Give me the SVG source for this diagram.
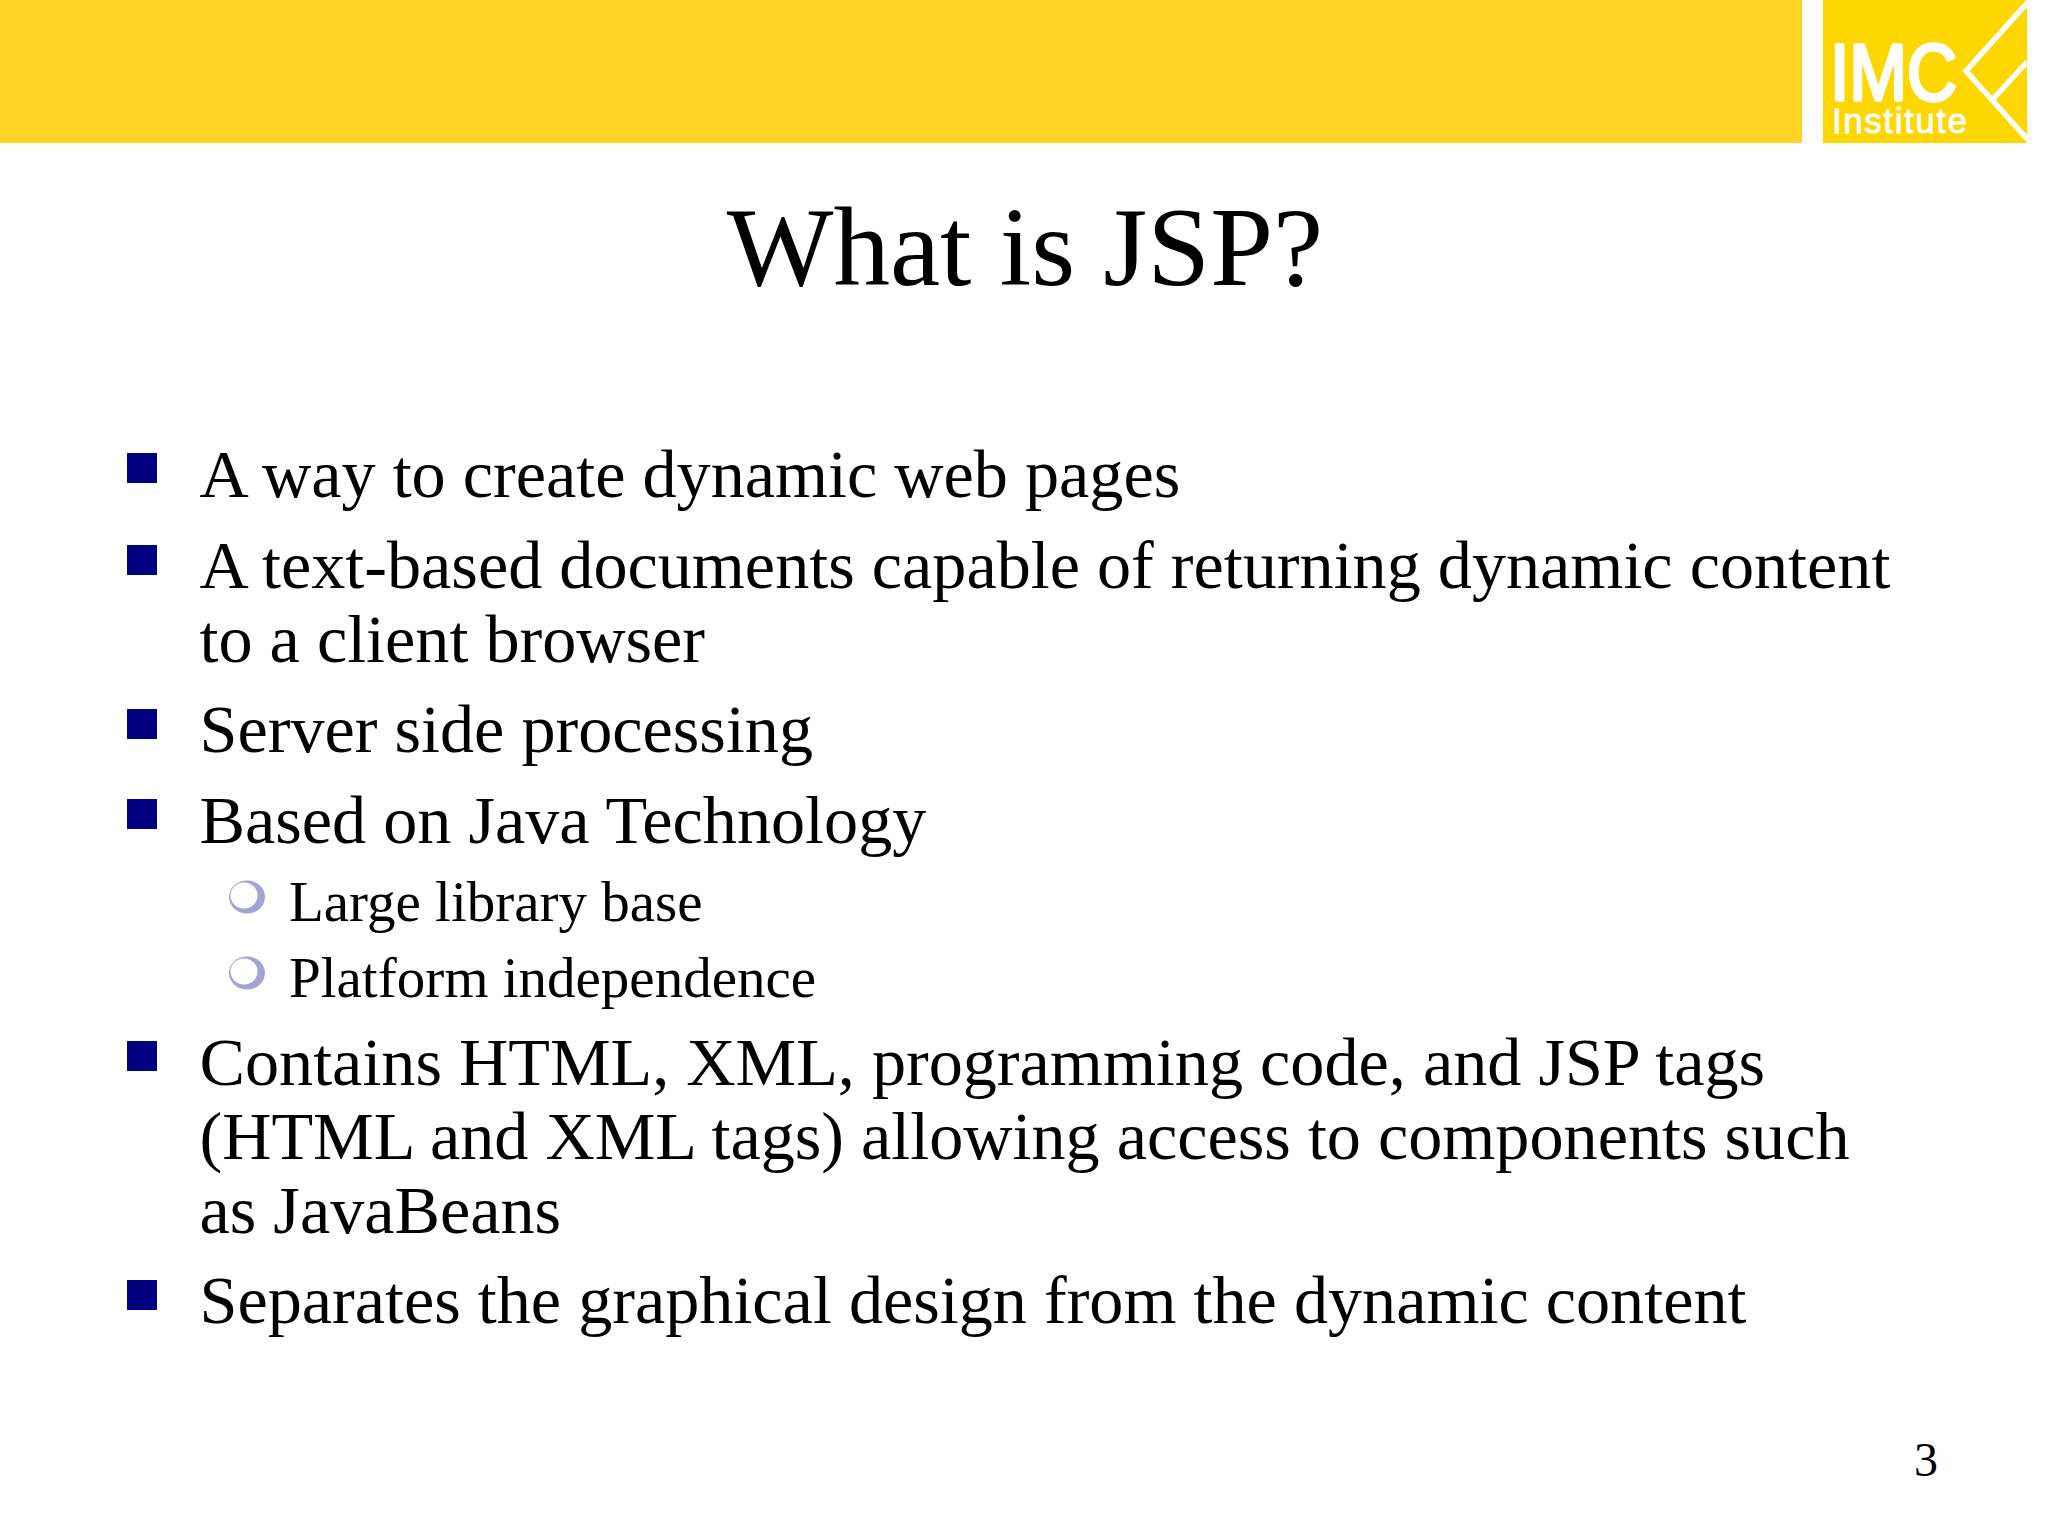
<svg xmlns="http://www.w3.org/2000/svg" width="2048" height="1536" viewBox="0 0 2048 1536">
<style>
text{font-family:"Liberation Serif","Times New Roman",serif;fill:#000}
.l1{font-size:68.200px}
.l2{font-size:57px}
.sq{fill:#000080}
.logo{font-family:"Liberation Sans",Arial,sans-serif}
</style>
<defs>
<g id="sub"><ellipse cx="0" cy="0" rx="18" ry="16.500" fill="#a5a3d4"/><ellipse cx="-3" cy="-1.500" rx="13.500" ry="13" fill="#fff"/></g>
</defs>
<rect width="2048" height="1536" fill="#fff"/>
<rect id="band" x="0" y="0" width="1802" height="143" fill="#ffd324"/>
<g id="logo">
<rect x="1823" y="0" width="204" height="143" fill="#ffd700"/>
<text class="logo" x="1830" y="100" font-size="80" stroke="#fff" stroke-width="3.500" stroke-linejoin="round" textLength="127" lengthAdjust="spacingAndGlyphs" style="fill:#fff">IMC</text>
<text class="logo" x="1832" y="133" font-size="35" stroke="#fff" stroke-width="0.800" textLength="135" lengthAdjust="spacing" style="fill:#fff">Institute</text>
<path d="M2029 1L1966 71L2029 141M1993 99L2027 62" fill="none" stroke="#fff" stroke-width="5.500"/>
</g>
<text x="1025" y="285" font-size="113" text-anchor="middle">What is JSP?</text>
<g id="bullets">
<rect class="sq" x="127" y="453" width="30" height="30"/>
<rect class="sq" x="127" y="545" width="30" height="30"/>
<rect class="sq" x="127" y="709" width="30" height="30"/>
<rect class="sq" x="127" y="799" width="30" height="30"/>
<rect class="sq" x="127" y="1041" width="30" height="30"/>
<rect class="sq" x="127" y="1280" width="30" height="30"/>
<use href="#sub" x="247" y="897"/>
<use href="#sub" x="247" y="973"/>
</g>
<g id="body">
<text class="l1" x="199.500" y="497">A way to create dynamic web pages</text>
<text class="l1" x="199.500" y="588">A text-based documents capable of returning dynamic content</text>
<text class="l1" x="199.500" y="662">to a client browser</text>
<text class="l1" x="199.500" y="752">Server side processing</text>
<text class="l1" x="199.500" y="843">Based on Java Technology</text>
<text class="l2" x="289" y="921">Large library base</text>
<text class="l2" x="289" y="997">Platform independence</text>
<text class="l1" x="199.500" y="1085">Contains HTML, XML, programming code, and JSP tags</text>
<text class="l1" x="199.500" y="1159">(HTML and XML tags) allowing access to components such</text>
<text class="l1" x="199.500" y="1233">as JavaBeans</text>
<text class="l1" x="199.500" y="1323">Separates the graphical design from the dynamic content</text>
</g>
<text x="1926" y="1476" font-size="48" text-anchor="middle">3</text>
</svg>
